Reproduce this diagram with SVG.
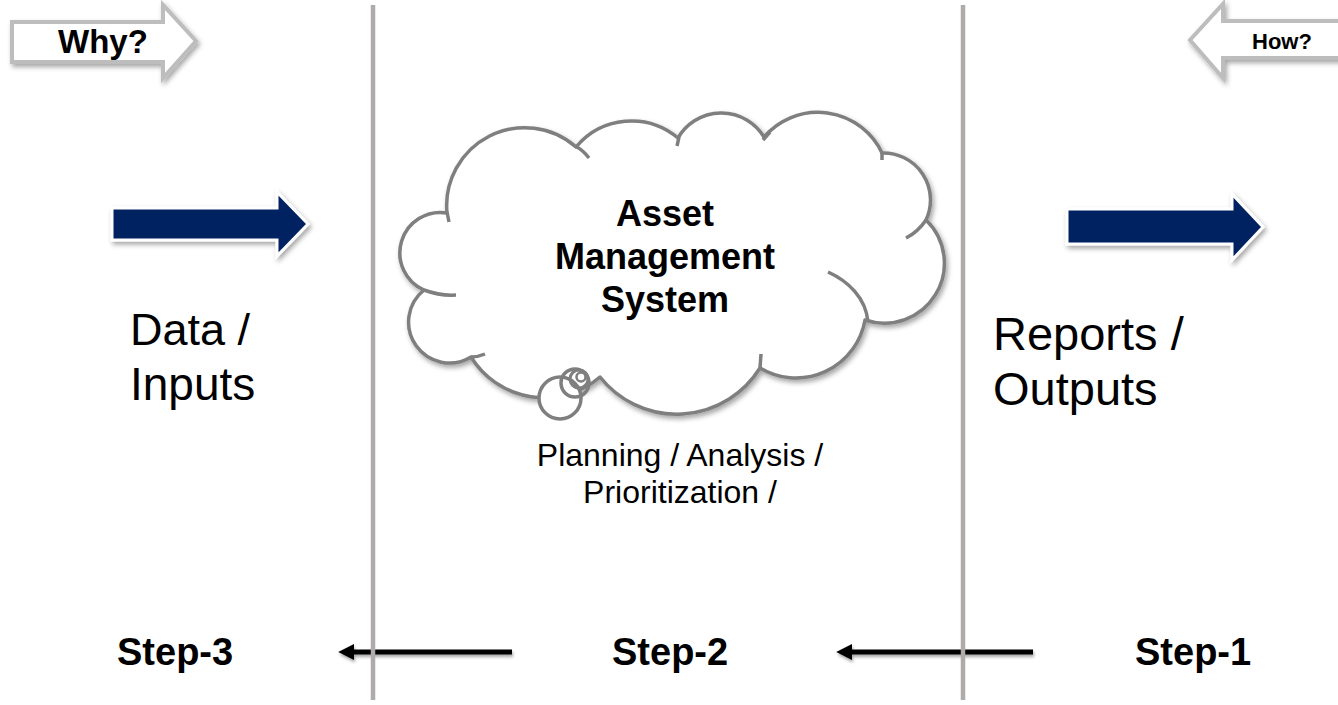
<svg xmlns="http://www.w3.org/2000/svg" width="1338" height="705" viewBox="0 0 1338 705">
<style>
.t{font-family:"Liberation Sans",Arial,sans-serif;fill:#000}
.b{font-weight:bold}
.gray{fill:#fff;stroke:#bdbdbd;stroke-width:4;stroke-linejoin:miter}
.blue{fill:#002060;stroke:#fff;stroke-width:3;stroke-linejoin:miter}
.vline{stroke:#b0abab;stroke-width:4.5}
.conn{stroke:#000;stroke-width:5}
.cloud{fill:#fff;stroke:#7f7f7f;stroke-width:3.5;stroke-linejoin:round}
.crease{fill:none;stroke:#7f7f7f;stroke-width:3.5;stroke-linecap:butt}
</style>
<defs>
<filter id="sh" x="-20%" y="-20%" width="140%" height="160%">
<feDropShadow dx="2" dy="3" stdDeviation="2.5" flood-color="#000" flood-opacity="0.35"/>
</filter>
<filter id="shs" filterUnits="userSpaceOnUse" x="0" y="600" width="1338" height="105">
<feDropShadow dx="1" dy="2.5" stdDeviation="1.5" flood-color="#000" flood-opacity="0.35"/>
</filter>
<marker id="ah" viewBox="0 0 10 10" refX="2" refY="5" markerWidth="3.2" markerHeight="3.4" orient="auto-start-reverse" markerUnits="strokeWidth">
<path d="M0,0 L10,5 L0,10 Z" fill="#000"/>
</marker>
</defs>
<rect width="1338" height="705" fill="#fff"/>

<g id="why">
<path class="gray" filter="url(#sh)" d="M12,22 L163,22 L163,5 L196,41 L163,78 L163,62 L12,62 Z"/>
<text class="t b" x="58" y="53" font-size="33">Why?</text>
</g>

<g id="how">
<path class="gray" filter="url(#sh)" d="M1345,21 L1223,21 L1223,4 L1190,40 L1223,78 L1223,58 L1345,58 Z"/>
<text class="t b" x="1252" y="49" font-size="22">How?</text>
</g>

<g id="input-arrow">
<path class="blue" filter="url(#sh)" d="M112,208 L277,208 L277,192 L308,224 L277,256 L277,240 L112,240 Z"/>
</g>
<g id="output-arrow">
<path class="blue" filter="url(#sh)" d="M1067,209 L1232,209 L1232,194 L1263,227 L1232,260 L1232,244 L1067,244 Z"/>
</g>

<g id="data-inputs">
<text class="t" x="130" y="345" font-size="45">Data /</text>
<text class="t" x="130" y="400" font-size="46">Inputs</text>
</g>

<g id="reports-outputs">
<text class="t" x="993" y="350" font-size="47">Reports /</text>
<text class="t" x="993" y="405" font-size="47">Outputs</text>
</g>

<g id="cloud">
<path class="cloud" filter="url(#sh)" d="M447,213 A78,78 0 0 1 576,147 A72,72 0 0 1 678,138 A50,50 0 0 1 764,137 A71,71 0 0 1 882,153 A47,47 0 0 1 926,220 A60,60 0 0 1 865,320 A70,70 0 0 1 760,368 A98,98 0 0 1 600,377 A86,86 0 0 1 471,357 A41,41 0 0 1 424,290 A40.5,40.5 0 0 1 447,213 Z"/>
<path class="crease" d="M424,290 Q440,296 456,295 M471,357 Q478,357 485,354 M760,368 L761,354 M828,272 C848,281 866,298 868,322 M926,220 Q918,232 906,238 M882,152 L882,160 M763,140 L770,132 M677,146 L679,137 M575,146 Q583,150 589,158 M447,212 L449,222"/>
<circle cx="560" cy="398" r="21" fill="#fff" stroke="#7f7f7f" stroke-width="3.5"/>
<circle cx="575" cy="383" r="14" fill="none" stroke="#7f7f7f" stroke-width="3.5"/>
<circle cx="579" cy="379" r="9" fill="none" stroke="#7f7f7f" stroke-width="3"/>
<circle cx="581" cy="377" r="4.5" fill="none" stroke="#7f7f7f" stroke-width="2.5"/>
<text class="t b" x="665" y="226" font-size="36" text-anchor="middle">Asset</text>
<text class="t b" x="665" y="269" font-size="36" text-anchor="middle">Management</text>
<text class="t b" x="665" y="312" font-size="36" text-anchor="middle">System</text>
</g>

<g id="planning">
<text class="t" x="680" y="466" font-size="32" text-anchor="middle">Planning / Analysis /</text>
<text class="t" x="680" y="503" font-size="32" text-anchor="middle">Prioritization /</text>
</g>

<g id="step3"><text class="t b" x="117" y="665" font-size="38">Step-3</text></g>
<g id="step2"><text class="t b" x="612" y="665" font-size="38">Step-2</text></g>
<g id="step1"><text class="t b" x="1135" y="665" font-size="38">Step-1</text></g>

<g id="connectors" filter="url(#shs)">
<line class="conn" x1="512" y1="652" x2="351" y2="652" marker-end="url(#ah)"/>
<line class="conn" x1="1033" y1="652" x2="849" y2="652" marker-end="url(#ah)"/>
</g>

<g id="dividers">
<line class="vline" x1="373" y1="5" x2="373" y2="700"/>
<line class="vline" x1="963" y1="5" x2="963" y2="700"/>
</g>
</svg>
